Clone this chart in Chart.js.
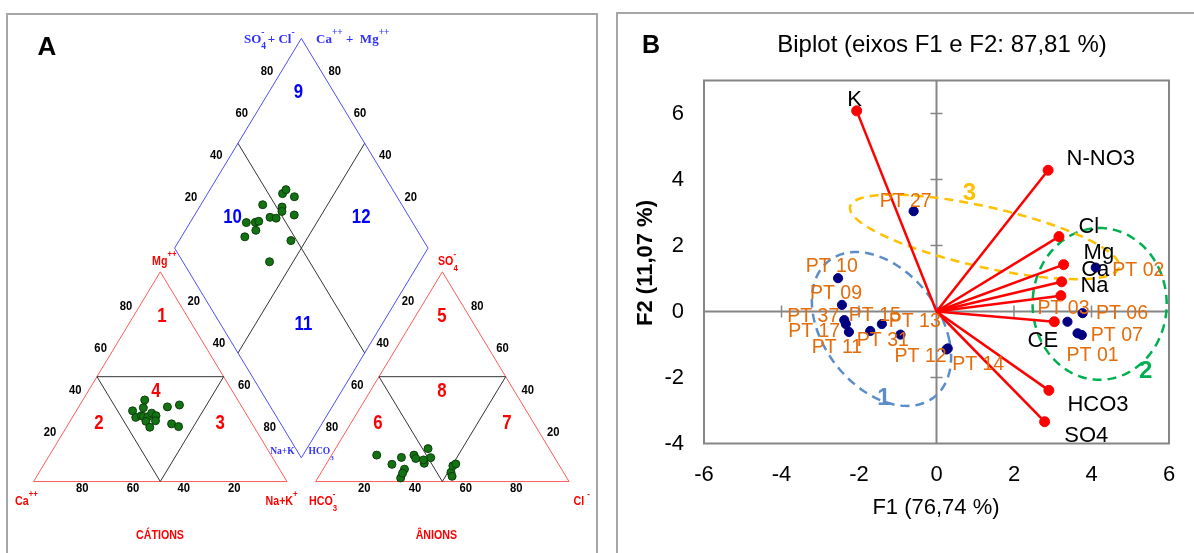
<!DOCTYPE html>
<html lang="pt">
<head>
<meta charset="utf-8">
<title>Piper + Biplot</title>
<script src="https://cdn.jsdelivr.net/npm/chart.js@4.4.1/dist/chart.umd.min.js"></script>
<style>
  html, body { margin: 0; padding: 0; background: #fff; }
  body { width: 1194px; height: 553px; position: relative; overflow: hidden; }
  .panel { position: absolute; border: 2px solid #a6a6a6; box-sizing: border-box; }
  #panelA { left: 6px; top: 13px; width: 592px; height: 620px; }
  #panelB { left: 616px; top: 12px; width: 600px; height: 620px; }
  canvas { position: absolute; top: 0; }
  #piper { left: 0; }
  #biplot { left: 600px; }
</style>
</head>
<body>
<div class="panel" id="panelA"></div>
<div class="panel" id="panelB"></div>
<canvas id="piper" width="600" height="553"></canvas>
<canvas id="biplot" width="594" height="553"></canvas>

<script>
/* ============================================
   A — Piper diagram   /   B — PCA biplot
   ============================================ */

// ── Piper: ionic composition of each sample (% meq/L) ──
const caPct   = [44.1, 36.7, 44.4, 39.1, 41.8, 41.2, 39.5, 41.3, 37.1, 36.0, 41.2, 37.4, 29.4, 24.2, 31.8, 29.7];
const mgPct   = [33.7, 38.9, 30.6, 35.2, 31.4, 31.0, 30.9, 28.7, 32.6, 31.4, 25.9, 29.0, 35.6, 36.5, 27.5, 26.2];
const nakPct  = [22.2, 24.4, 25.0, 25.7, 26.8, 27.8, 29.6, 30.0, 30.3, 32.6, 32.9, 33.6, 35.0, 39.3, 40.7, 44.1];
const hco3Pct = [65.6, 54.9, 69.6, 62.0, 60.4, 63.7, 44.4, 42.1, 55.0, 47.8, 52.8, 48.9, 40.5, 44.9, 65.8, 52.3];
const so4Pct  = [1.7, 12.6, 12.6, 5.9, 11.5, 4.0, 4.4, 7.5, 11.0, 15.7, 8.7, 11.4, 8.4, 2.5, 8.2, 10.3];
const clPct   = [32.7, 32.5, 17.8, 32.1, 28.1, 32.3, 51.2, 50.4, 34.0, 36.5, 38.5, 39.7, 51.1, 52.6, 26.0, 37.4];
const piperTicks = [20, 40, 60, 80];

// ── Biplot: variable loadings (F1, F2) ──
const varNames = ['K', 'N-NO3', 'Cl', 'Mg', 'Ca', 'Na', 'CE', 'HCO3', 'SO4'];
const varF1 = [-2.06, 2.88, 3.16, 3.28, 3.23, 3.21, 3.04, 2.90, 2.79];
const varF2 = [6.08, 4.28, 2.27, 1.42, 0.90, 0.48, -0.31, -2.39, -3.34];

// ── Biplot: observation scores (F1, F2) ──
const obsNames = ['PT 27', 'PT 10', 'PT 09', 'PT 37', 'PT 17', 'PT 11', 'PT 31', 'PT 15',
                  'PT 13', 'PT 12', 'PT 14', 'PT 02', 'PT 03', 'PT 06', 'PT 07', 'PT 01'];
const obsF1 = [-0.59, -2.54, -2.44, -2.38, -2.34, -2.26, -1.71, -1.41, -0.93, 0.26, 0.29, 4.11, 3.38, 3.77, 3.75, 3.64];
const obsF2 = [3.04, 1.01, 0.20, -0.26, -0.38, -0.62, -0.59, -0.38, -0.70, -1.15, -1.12, 1.33, -0.31, -0.05, -0.71, -0.66];

// ── Colors ──
const colors = {
  red: '#ff0000',
  navy: '#000080',
  orange: '#e46c0a',
  axis: '#868686',
  piperRed: '#ff5a5a',
  piperBlue: '#4d4dff',
  piperInner: '#333333',
  piperPoint: '#137313',
  group1: '#5b8ec9',
  group2: '#00b050',
  group3: '#ffc000',
};

const SANS = "'Liberation Sans', Arial, sans-serif";
Chart.defaults.font.family = SANS;
Chart.defaults.animation = false;
Chart.defaults.plugins.legend.display = false;
Chart.defaults.plugins.tooltip.enabled = false;

// ── small text helpers ──
function text(ctx, str, x, y, font, color, align = 'left', baseline = 'alphabetic', sx = 1) {
  ctx.save();
  ctx.font = font;
  ctx.fillStyle = color;
  ctx.textAlign = align;
  ctx.textBaseline = baseline;
  ctx.translate(x, y);
  ctx.scale(sx, 1);
  ctx.fillText(str, 0, 0);
  ctx.restore();
}

// parts: [string, shift(0 | 1 sup | -1 sub), keepX]
function richText(ctx, parts, x, y, font, smallFont, color, sx = 1) {
  ctx.save();
  ctx.fillStyle = color;
  ctx.textBaseline = 'alphabetic';
  ctx.textAlign = 'left';
  ctx.translate(x, y);
  ctx.scale(sx, 1);
  let cx = 0;
  parts.forEach(([s, shift, keep]) => {
    ctx.font = shift ? smallFont : font;
    const dy = shift === 1 ? -8 : shift === -1 ? 6 : 0;
    ctx.fillText(s, cx, dy);
    if (!keep) cx += ctx.measureText(s).width;
  });
  ctx.restore();
}

/* ─────────────── A: Piper diagram ─────────────── */
const GAP = 11.3;               // space between the two triangles
const H = Math.sqrt(3) / 2;
const OX = 100 + GAP;           // anion triangle origin
const DB = GAP * H;             // height of the diamond's lower vertex

const cationPts = caPct.map((_, i) => ({ x: nakPct[i] + mgPct[i] / 2, y: mgPct[i] * H }));
const anionPts = so4Pct.map((s, i) => ({ x: OX + clPct[i] + s / 2, y: s * H }));
const diamondPts = nakPct.map((n, i) => {
  const t = 200 + GAP - n - hco3Pct[i];
  return { x: n + t / 2, y: t * H };
});

function outline(pts, color) {
  return {
    data: pts.map(([x, y]) => ({ x, y })),
    showLine: true,
    borderColor: color,
    borderWidth: 1,
    pointRadius: 0,
    tension: 0,
  };
}

function pointSet(pts) {
  return {
    data: pts,
    pointRadius: 4,
    pointBackgroundColor: colors.piperPoint,
    pointBorderColor: '#0a3d0a',
    pointBorderWidth: 1,
  };
}

const dLeft = [50 + GAP / 2, DB + 100 * H];
const dTop = [100 + GAP / 2, DB + 200 * H];
const dRight = [150 + GAP / 2, DB + 100 * H];
const dBottom = [100 + GAP / 2, DB];
const mid = (a, b) => [(a[0] + b[0]) / 2, (a[1] + b[1]) / 2];

const piperText = {
  id: 'piperText',
  afterDatasetsDraw(chart) {
    const { ctx, scales: { x, y } } = chart;
    const px = (u, v) => [x.getPixelForValue(u), y.getPixelForValue(v)];
    const tickFont = `bold 12.5px ${SANS}`;
    const put = (v, a, b) => text(ctx, String(v), a, b, tickFont, '#000', 'center', 'middle', 0.9);

    piperTicks.forEach(v => {
      let [a, b] = px(100 - v, 0);                     // Ca %
      put(v, a - 2, b + 7.5);
      [a, b] = px(v / 2, v * H);                       // Mg %
      put(v, a - 9, b - 7);
      [a, b] = px(50 + v / 2, (100 - v) * H);          // Na+K %
      put(v, a + 8, b - 12);
      [a, b] = px(OX + v, 0);                          // Cl %
      put(v, a - 2, b + 7.5);
      [a, b] = px(OX + (100 - v) / 2, (100 - v) * H);  // HCO3 %
      put(v, a - 9, b - 12);
      [a, b] = px(OX + 100 - v / 2, v * H);            // SO4 %
      put(v, a + 9.5, b - 7);
      [a, b] = px(50 + GAP / 2 + v / 2, DB + (100 + v) * H);   // SO4 + Cl
      put(v, a - 9, b - 9);
      [a, b] = px(150 + GAP / 2 - v / 2, DB + (100 + v) * H);  // Ca + Mg
      put(v, a + 8, b - 9);
    });

    // field numbers
    const numFont = `bold 21px ${SANS}`;
    [['9', 298.4, 92.7], ['10', 232.6, 217.3], ['12', 361.2, 217.3], ['11', 303.5, 324]]
      .forEach(([s, a, b]) => text(ctx, s, a, b, numFont, '#0000ff', 'center', 'middle', 0.8));
    [['1', 162, 316], ['4', 155.8, 391], ['2', 98.8, 423.3], ['3', 220.2, 423.3],
     ['5', 441.9, 316], ['8', 441.9, 391], ['6', 377.9, 423.3], ['7', 507, 423.3]]
      .forEach(([s, a, b]) => text(ctx, s, a, b, numFont, '#ff0000', 'center', 'middle', 0.8));

    // ion labels
    const rf = `bold 13px ${SANS}`, rs = `bold 9.5px ${SANS}`;
    richText(ctx, [['Mg', 0], ['++', 1]], 152, 265, rf, rs, '#ff0000', 0.82);
    richText(ctx, [['SO', 0], ['4', -1, true], ['-', 1]], 438, 264.5, rf, rs, '#ff0000', 0.82);
    richText(ctx, [['Ca', 0], ['++', 1]], 15, 505, rf, rs, '#ff0000', 0.82);
    richText(ctx, [['Na+K', 0], ['+', 1]], 265.5, 505, rf, rs, '#ff0000', 0.82);
    richText(ctx, [['HCO', 0], ['3', -1, true], ['-', 1]], 309, 505, rf, rs, '#ff0000', 0.82);
    richText(ctx, [['Cl ', 0], ['-', 1]], 573.6, 505, rf, rs, '#ff0000', 0.82);
    text(ctx, 'CÁTIONS', 160, 538.7, rf, '#ff0000', 'center', 'alphabetic', 0.82);
    text(ctx, 'ÂNIONS', 436.4, 538.7, rf, '#ff0000', 'center', 'alphabetic', 0.82);

    const bf = "bold 13px 'Liberation Serif', serif", bs = "bold 9.5px 'Liberation Serif', serif";
    richText(ctx, [['SO', 0], ['4', -1, true], ['-', 1], [' + Cl', 0], ['-', 1]], 244, 43, bf, bs, '#3030ff');
    richText(ctx, [['Ca', 0], ['++', 1], [' +  Mg', 0], ['++', 1]], 316, 43, bf, bs, '#3030ff');
    const sf = "bold 9.5px 'Liberation Serif', serif", ss = "bold 7px 'Liberation Serif', serif";
    richText(ctx, [['Na+K', 0]], 270.2, 454, sf, ss, '#3030ff');
    richText(ctx, [['HCO', 0], ['3', -1]], 308.5, 454, sf, ss, '#3030ff');

    text(ctx, 'A', 37.6, 55, `bold 26px ${SANS}`, '#000');
  }
};

new Chart(document.getElementById('piper'), {
  type: 'scatter',
  data: {
    datasets: [
      pointSet(cationPts),
      pointSet(anionPts),
      pointSet(diamondPts),
      outline([[25, 50 * H], [75, 50 * H], [50, 0], [25, 50 * H]], colors.piperInner),
      outline([[OX + 25, 50 * H], [OX + 75, 50 * H], [OX + 50, 0], [OX + 25, 50 * H]], colors.piperInner),
      outline([mid(dLeft, dTop), mid(dRight, dBottom)], colors.piperInner),
      outline([mid(dRight, dTop), mid(dLeft, dBottom)], colors.piperInner),
      outline([[0, 0], [100, 0], [50, 100 * H], [0, 0]], colors.piperRed),
      outline([[OX, 0], [OX + 100, 0], [OX + 50, 100 * H], [OX, 0]], colors.piperRed),
      outline([dBottom, dLeft, dTop, dRight, dBottom], colors.piperBlue),
    ]
  },
  options: {
    responsive: false,
    layout: { padding: 0 },
    scales: {
      x: { type: 'linear', display: false, min: -11.29, max: 221.54 },
      y: { type: 'linear', display: false, min: -27.45, max: 196.8 },
    },
  },
  plugins: [piperText],
});

/* ─────────────── B: Biplot ─────────────── */

// label nudges in px: [dx, dy, align]
const varLabelShift = [[-2, -4.7, 'center'], [18.5, -5.3], [19.5, -3.4], [20, -5.7], [19.5, -5.9],
                       [19.5, -3.3], [-11.4, 25.7, 'center'], [18.6, 20.5], [19.7, 20.7]];
const obsLabelShift = [[-34, -4.6], [-32.3, -6.3], [-32, -6], [-57, 2.3], [-57.7, 13.3], [-37.3, 21.3],
                       [-13.4, 14.7], [-33, -3.3], [-11.7, -7.8], [-52, 13], [4.4, 21.5], [16.6, 8],
                       [-30, -7.7], [13.4, 5.7], [9, 5.7], [-11, 27.4]];

// group ellipses (centre, two conjugate semi-axes, in F1/F2 units)
const groups = [
  { label: '1', color: colors.group1, c: [-1.42, -0.53], a: [1.755, -0.364], b: [-0.387, 2.303], at: [-1.36, -2.63] },
  { label: '2', color: colors.group2, c: [4.21, 0.23], a: [1.73, 0], b: [0, 2.30], at: [5.40, -1.80] },
  { label: '3', color: colors.group3, c: [1.24, 2.26], a: [3.47, -0.92], b: [-0.17, -0.89], at: [0.85, 3.59] },
];

const biplotDecor = {
  id: 'biplotDecor',
  beforeDatasetsDraw(chart) {
    const { ctx, chartArea: ca, scales: { x, y } } = chart;
    const x0 = x.getPixelForValue(0), y0 = y.getPixelForValue(0);
    ctx.save();
    ctx.strokeStyle = colors.axis;
    ctx.lineWidth = 2;
    ctx.strokeRect(ca.left, ca.top, ca.width, ca.height);
    ctx.beginPath();
    ctx.moveTo(x0, ca.top); ctx.lineTo(x0, ca.bottom);
    ctx.moveTo(ca.left, y0); ctx.lineTo(ca.right, y0);
    ctx.stroke();

    ctx.lineWidth = 1.5;
    ctx.beginPath();
    y.ticks.forEach(t => {
      if (t.value === 0 || t.value === y.min || t.value === y.max) return;
      const p = y.getPixelForValue(t.value);
      ctx.moveTo(x0 - 6, p); ctx.lineTo(x0 + 6, p);
    });
    x.ticks.forEach(t => {
      if (t.value === 0 || t.value === x.min || t.value === x.max) return;
      const p = x.getPixelForValue(t.value);
      ctx.moveTo(p, y0 - 6); ctx.lineTo(p, y0 + 6);
    });
    ctx.stroke();

    // dashed group ellipses
    ctx.setLineDash([9, 6]);
    ctx.lineWidth = 2.5;
    groups.forEach(g => {
      ctx.strokeStyle = g.color;
      ctx.beginPath();
      for (let k = 0; k <= 160; k++) {
        const t = (k / 160) * Math.PI * 2;
        const fx = g.c[0] + g.a[0] * Math.cos(t) + g.b[0] * Math.sin(t);
        const fy = g.c[1] + g.a[1] * Math.cos(t) + g.b[1] * Math.sin(t);
        const px = x.getPixelForValue(fx), py = y.getPixelForValue(fy);
        if (k === 0) ctx.moveTo(px, py); else ctx.lineTo(px, py);
      }
      ctx.stroke();
    });
    ctx.restore();
  },
  afterDatasetsDraw(chart) {
    const { ctx, scales: { x, y } } = chart;
    const varFont = `22px ${SANS}`;
    varNames.forEach((n, i) => {
      const [dx, dy, al] = varLabelShift[i];
      text(ctx, n, x.getPixelForValue(varF1[i]) + dx, y.getPixelForValue(varF2[i]) + dy, varFont, '#000', al || 'left');
    });
    const obsFont = `19.5px ${SANS}`;
    obsNames.forEach((n, i) => {
      const [dx, dy] = obsLabelShift[i];
      text(ctx, n, x.getPixelForValue(obsF1[i]) + dx, y.getPixelForValue(obsF2[i]) + dy, obsFont, colors.orange);
    });
    groups.forEach(g => {
      text(ctx, g.label, x.getPixelForValue(g.at[0]), y.getPixelForValue(g.at[1]),
        `bold 24px ${SANS}`, g.color, 'center', 'middle');
    });

    // titles
    text(ctx, 'B', 42, 53, `bold 25px ${SANS}`, '#000');
    text(ctx, 'Biplot (eixos F1 e F2: 87,81 %)', 342, 52, `24px ${SANS}`, '#000', 'center');
    text(ctx, 'F1 (76,74 %)', 336, 514, `22px ${SANS}`, '#000', 'center');
    ctx.save();
    ctx.translate(52, 263);
    ctx.rotate(-Math.PI / 2);
    text(ctx, 'F2 (11,07 %)', 0, 0, `bold 22px ${SANS}`, '#000', 'center');
    ctx.restore();
  }
};

const vectorSets = varNames.map((_, i) => ({
  data: [{ x: 0, y: 0 }, { x: varF1[i], y: varF2[i] }],
  showLine: true,
  borderColor: colors.red,
  borderWidth: 2.5,
  pointRadius: 0,
}));

new Chart(document.getElementById('biplot'), {
  type: 'scatter',
  data: {
    datasets: [
      {
        data: obsF1.map((v, i) => ({ x: v, y: obsF2[i] })),
        pointRadius: 4.6,
        pointBackgroundColor: colors.navy,
        pointBorderColor: colors.navy,
      },
      {
        data: varF1.map((v, i) => ({ x: v, y: varF2[i] })),
        pointRadius: 5,
        pointBackgroundColor: colors.red,
        pointBorderColor: colors.red,
      },
      ...vectorSets,
    ]
  },
  options: {
    responsive: false,
    layout: { padding: { top: 80.5, right: 25, left: 0, bottom: 0 } },
    scales: {
      x: {
        type: 'linear',
        min: -6, max: 6,
        grid: { display: false, drawTicks: false },
        border: { display: false },
        ticks: { stepSize: 2, padding: 18, color: '#000', font: { size: 22 } },
        afterFit: s => { s.height = 109.5; },
      },
      y: {
        type: 'linear',
        min: -4, max: 7,
        grid: { display: false, drawTicks: false },
        border: { display: false },
        ticks: { stepSize: 2, includeBounds: false, padding: 20, color: '#000', font: { size: 22 } },
        afterFit: s => { s.width = 104; },
      },
    },
  },
  plugins: [biplotDecor],
});
</script>
</body>
</html>
